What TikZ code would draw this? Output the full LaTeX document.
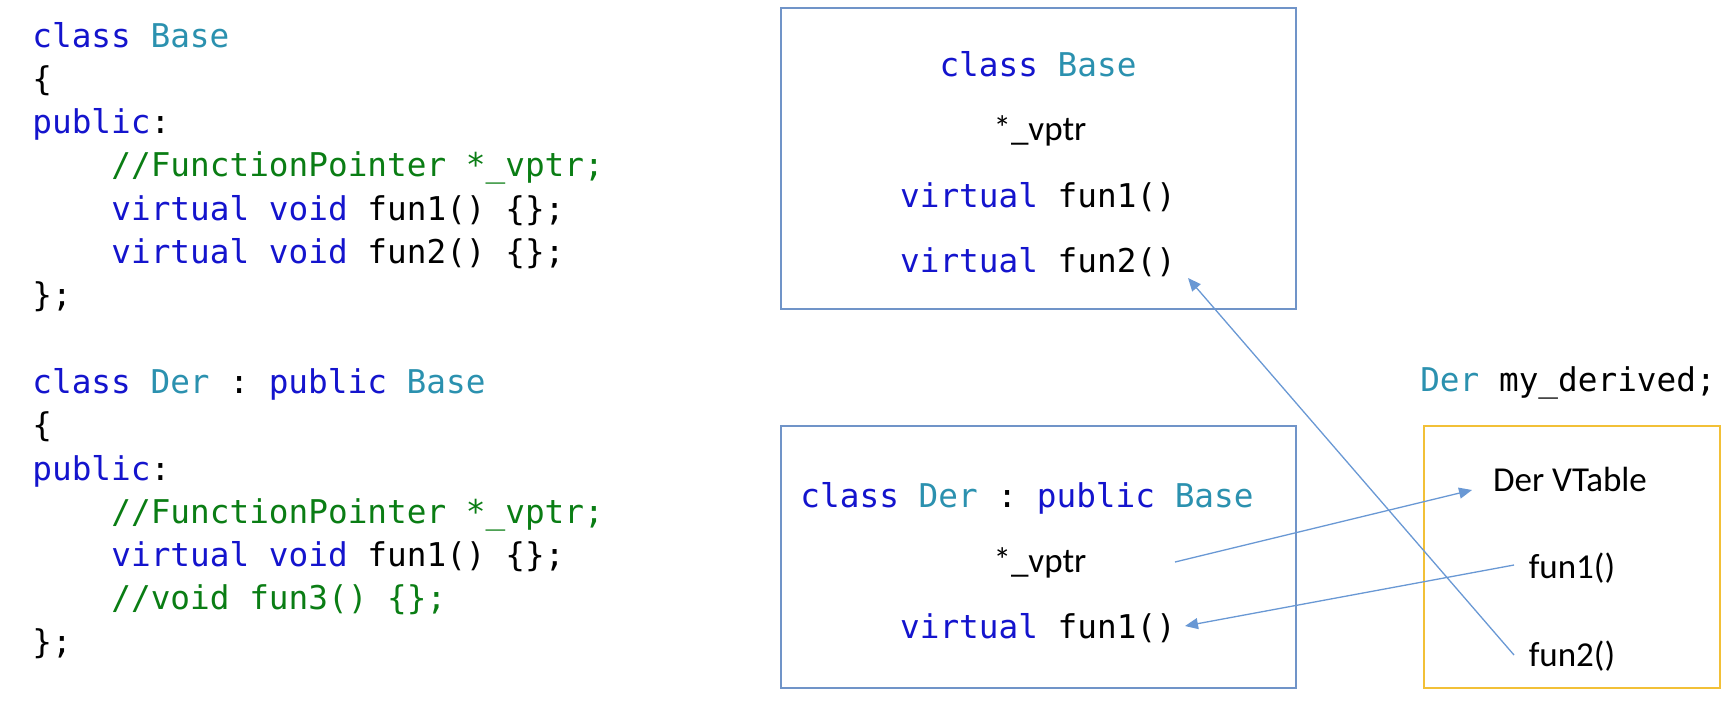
\documentclass[tikz,border=0pt]{standalone}
\usepackage{fontspec}
\setmonofont{DejaVu Sans Mono}
\setsansfont{Carlito}
\usetikzlibrary{arrows.meta}
\definecolor{kw}{RGB}{20,20,205}
\definecolor{ty}{RGB}{43,145,175}
\definecolor{cm}{RGB}{10,125,20}
\definecolor{boxblue}{RGB}{112,148,200}
\definecolor{boxyellow}{RGB}{242,192,55}
\definecolor{arr}{RGB}{105,152,212}
\newcommand{\K}[1]{\textcolor{kw}{#1}}
\newcommand{\T}[1]{\textcolor{ty}{#1}}
\newcommand{\C}[1]{\textcolor{cm}{#1}}
\tikzset{
  code/.style={inner sep=0pt, anchor=base west, font=\ttfamily\fontsize{16.36}{20}\selectfont},
  ccode/.style={inner sep=0pt, anchor=base, font=\ttfamily\fontsize{16.36}{20}\selectfont},
  lbl/.style={inner sep=0pt, anchor=base, font=\sffamily\fontsize{17.5}{21}\selectfont},
  bluebox/.style={draw=boxblue, line width=1pt},
  yelbox/.style={draw=boxyellow, line width=1.1pt},
  ptr/.style={draw=arr, line width=0.65pt, -{Triangle[length=6.5pt,width=5.5pt]}}
}
\begin{document}
\begin{tikzpicture}[x=0.5pt,y=-0.5pt]
\useasboundingbox (0,0) rectangle (1733,703);
% left code
\node[code] (l0) at (32,47) {\K{class} \T{Base}};
\node[code] (l1) at (32,90.3) {\{};
\node[code] (l2) at (32,133.6) {\K{public}:};
\node[code] (l3) at (111,176.9) {\C{//FunctionPointer *\_vptr;}};
\node[code] (l4) at (111,220.2) {\K{virtual} \K{void} fun1() \{\};};
\node[code] (l5) at (111,263.5) {\K{virtual} \K{void} fun2() \{\};};
\node[code] (l6) at (32,306.8) {\};};
\node[code] (m0) at (32,393.4) {\K{class} \T{Der} : \K{public} \T{Base}};
\node[code] (m1) at (32,436.7) {\{};
\node[code] (m2) at (32,480) {\K{public}:};
\node[code] (m3) at (111,523.3) {\C{//FunctionPointer *\_vptr;}};
\node[code] (m4) at (111,566.6) {\K{virtual} \K{void} fun1() \{\};};
\node[code] (m5) at (111,609.9) {\C{//void fun3() \{\};}};
\node[code] (m6) at (32,653.2) {\};};
% boxes
\node[bluebox, minimum width=257.5pt, minimum height=150.5pt, inner sep=0pt] (basebox) at (1038.5,158.5) {};
\node[bluebox, minimum width=257.5pt, minimum height=131pt, inner sep=0pt] (derbox) at (1038.5,557) {};
\node[yelbox, minimum width=148pt, minimum height=131pt, inner sep=0pt] (vtbox) at (1572,557) {};
% top box contents
\node[ccode] (bcls) at (1038,76) {\K{class} \T{Base}};
\node[lbl] (bvptr) at (1040,140) {*\_vptr};
\node[ccode] (bf1) at (1038,207) {\K{virtual} fun1()};
\node[ccode] (bf2) at (1038,272) {\K{virtual} fun2()};
% bottom box contents
\node[ccode] (dcls) at (1027,507) {\K{class} \T{Der} : \K{public} \T{Base}};
\node[lbl] (dvptr) at (1040,572) {*\_vptr};
\node[ccode] (df1) at (1038,638) {\K{virtual} fun1()};
% object
\node[ccode] (obj) at (1568,391) {\T{Der} my\_derived;};
\node[lbl] (vt) at (1570,491) {Der VTable};
\node[lbl] (vf1) at (1572,578) {fun1()};
\node[lbl] (vf2) at (1572,666) {fun2()};
% connector ends
\coordinate (pS) at (1175,562);
\coordinate (pE) at (1472,490);
\coordinate (f1S) at (1514,565);
\coordinate (f1E) at (1185,626);
\coordinate (f2S) at (1514,655);
\coordinate (f2E) at (1188,278);
\draw[ptr] (pS) -- (pE);
\draw[ptr] (f1S) -- (f1E);
\draw[ptr] (f2S) -- (f2E);
\end{tikzpicture}
\end{document}
